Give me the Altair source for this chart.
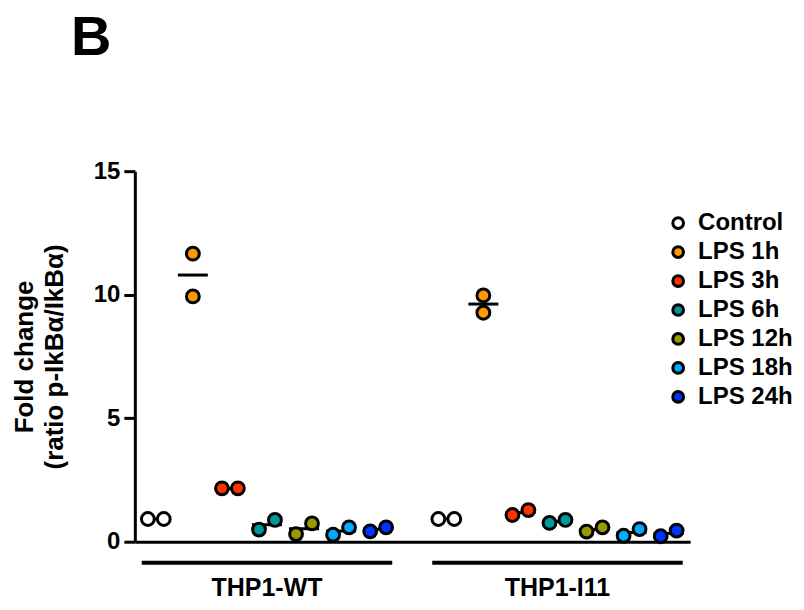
import altair as alt
import pandas as pd

# ---- data ----
conditions = ["Control", "LPS 1h", "LPS 3h", "LPS 6h", "LPS 12h", "LPS 18h", "LPS 24h"]
groups = ["THP1-WT", "THP1-I11"]
wt_rep1 = [0.92, 11.66, 2.16, 0.49, 0.31, 0.28, 0.42]
wt_rep2 = [0.92, 9.93, 2.16, 0.88, 0.74, 0.58, 0.58]
i11_rep1 = [0.92, 9.97, 1.08, 0.76, 0.41, 0.24, 0.22]
i11_rep2 = [0.92, 9.27, 1.28, 0.88, 0.58, 0.51, 0.45]
colors = ["#FFFFFF", "#FF9900", "#FF3300", "#009999", "#999900", "#00AAFF", "#0033FF"]
y_ticks = [0, 5, 10, 15]

# ---- layout constants ----
FONT = "Liberation Sans"
W, H = 556, 371
GROUP_START = {"THP1-WT": 0.0, "THP1-I11": 7.84}
DODGE = 0.215
X_DOMAIN = [-0.566, 14.42]

rows, means, grp = [], [], []
for g, reps in [("THP1-WT", (wt_rep1, wt_rep2)), ("THP1-I11", (i11_rep1, i11_rep2))]:
    start = GROUP_START[g]
    for i, c in enumerate(conditions):
        base = start + i
        for r, vals in enumerate(reps):
            off = 0.0 if c == "LPS 1h" else (-DODGE if r == 0 else DODGE)
            rows.append({"group": g, "condition": c, "pos": base + off, "value": vals[i]})
        means.append({"group": g, "condition": c, "pos": base,
                      "value": (reps[0][i] + reps[1][i]) / 2})
    grp.append({"group": g, "center": start + 3, "x1": start - 0.38, "x2": start + 6.38})

pts = pd.DataFrame(rows)
mdf = pd.DataFrame(means)
gdf = pd.DataFrame(grp)

xscale = alt.Scale(domain=X_DOMAIN, nice=False, zero=False)
yscale = alt.Scale(domain=[0, 15], nice=False)

x_axis = alt.Axis(labels=False, ticks=False, grid=False, title=None,
                  domainColor="black", domainWidth=3)
y_axis = alt.Axis(values=y_ticks, grid=False, labelFontSize=24, labelFont=FONT,
                  labelFontWeight="bold", labelColor="black", labelPadding=4,
                  tickSize=11, tickWidth=3, tickColor="black",
                  domainColor="black", domainWidth=3,
                  title=["Fold change", "(ratio p-IkB\u03b1/IkB\u03b1)"],
                  titleFont=FONT, titleFontSize=26, titleFontWeight="bold",
                  titleColor="black", titlePadding=26, titleLineHeight=30)

mean_layer = alt.Chart(mdf).mark_tick(
    orient="horizontal", size=30, thickness=3, color="black", opacity=1
).encode(
    x=alt.X("pos:Q", scale=xscale, axis=x_axis),
    y=alt.Y("value:Q", scale=yscale, axis=y_axis),
)

point_layer = alt.Chart(pts).mark_point(
    filled=True, shape="circle", size=165, stroke="black", strokeWidth=3, opacity=1
).encode(
    x=alt.X("pos:Q", scale=xscale, axis=x_axis),
    y=alt.Y("value:Q", scale=yscale, axis=y_axis),
    fill=alt.Fill("condition:N", scale=alt.Scale(domain=conditions, range=colors),
                  legend=alt.Legend(orient="none", legendX=532, legendY=40, title=None,
                                    padding=0, labelFontSize=24, labelFont=FONT,
                                    labelFontWeight="bold", labelColor="black",
                                    symbolType="circle", symbolSize=115,
                                    symbolStrokeColor="black", symbolStrokeWidth=3,
                                    symbolOpacity=1, labelOffset=8, rowPadding=5)),
)

bar_layer = alt.Chart(gdf).mark_rule(strokeWidth=4, color="black").encode(
    x=alt.X("x1:Q", scale=xscale, axis=x_axis),
    x2="x2:Q",
    y=alt.value(H + 21),
)

label_layer = alt.Chart(gdf).mark_text(
    fontSize=25, font=FONT, fontWeight="bold", baseline="alphabetic", color="black"
).encode(
    x=alt.X("center:Q", scale=xscale, axis=x_axis),
    y=alt.value(H + 54),
    text="group:N",
)

chart = alt.layer(mean_layer, point_layer, bar_layer, label_layer).properties(
    width=W, height=H,
    background="white",
    title=alt.TitleParams("B", anchor="start", fontSize=56, font=FONT, fontWeight="bold",
                          color="black", dx=-64, offset=92, frame="group"),
    autosize=alt.AutoSizeParams(type="none"),
    padding={"left": 127, "top": 163, "right": 106, "bottom": 60},
).configure_view(stroke=None)

chart.save("out.html", embed_options={"renderer": "svg", "actions": False})
